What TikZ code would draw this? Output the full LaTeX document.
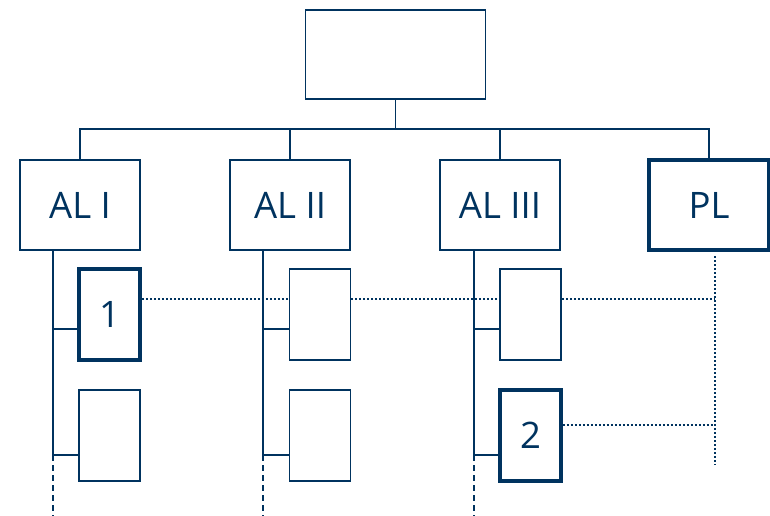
\documentclass[tikz,border=0pt]{standalone}
\usepackage{fontspec}
\setmainfont{Open Sans}
\usepackage{tikz}
\usetikzlibrary{positioning}

\definecolor{navy}{HTML}{00335F}
\tikzset{
  unit/.style={draw=navy, line width=1.8pt, fill=white, inner sep=0pt,
    text=navy, font=\fontsize{36.5}{42}\selectfont},
  chief/.style={unit, minimum width=180pt, minimum height=89pt},
  branch/.style={unit, minimum width=120pt, minimum height=90pt},
  cell/.style={unit, minimum width=61pt, minimum height=91pt},
  bold/.style={line width=3.5pt},
  link/.style={draw=navy, line width=1.8pt},
  trail/.style={draw=navy, line width=1.8pt, dash pattern=on 6pt off 4pt},
  liaison/.style={draw=navy, line width=2.2pt, dash pattern=on 2pt off 2pt}
}

\begin{document}
\begin{tikzpicture}[x=1pt,y=-1pt]
            \useasboundingbox (0,0) rectangle (770,516);
            \node[chief] (top) at (395.5,54.5) {};
            \node[branch] (al1) at (80,205) {AL I};
            \node[branch] (al2) at (290,205) {AL II};
            \node[branch] (al3) at (500,205) {AL III};
            \node[branch, bold] (pl) at (709,205) {PL};
            \node[cell, bold] (c11) at (109.5,314.5) {1};
            \node[cell] (c12) at (109.5,435.5) {};
            \node[cell] (c21) at (320,314.5) {};
            \node[cell] (c22) at (320,435.5) {};
            \node[cell] (c31) at (530.5,314.5) {};
            \node[cell, bold] (c32) at (530.5,435.5) {2};
            \coordinate (bus) at (395.5,129);
            \draw[link] (top.south) -- (bus);
            \draw[link] (al1.north) |- (bus) -| (pl.north);
            \draw[link] (al2.north) -- (al2.north |- bus);
            \draw[link] (al3.north) -- (al3.north |- bus);
            \coordinate (s1) at (53,455);
            \coordinate (s2) at (263,455);
            \coordinate (s3) at (474,455);
            \draw[link] (al1.south -| s1) -- (s1) -- (s1 -| c12.west);
            \draw[link] (al2.south -| s2) -- (s2) -- (s2 -| c22.west);
            \draw[link] (al3.south -| s3) -- (s3) -- (s3 -| c32.west);
            \draw[link] (s1 |- 0,329) -- (c11.west |- 0,329);
            \draw[link] (s2 |- 0,329) -- (c21.west |- 0,329);
            \draw[link] (s3 |- 0,329) -- (c31.west |- 0,329);
            \draw[trail] (s1) -- (s1 |- 0,516);
            \draw[trail] (s2) -- (s2 |- 0,516);
            \draw[trail] (s3) -- (s3 |- 0,516);
            % liaison lines to PL
            \coordinate (d1) at (715,299);
            \coordinate (d2) at (715,425);
            \draw[liaison] (715,256) -- (715,465);
            \draw[liaison] (c11.east |- d1) -- (c21.west |- d1);
            \draw[liaison] (c21.east |- d1) -- (c31.west |- d1);
            \draw[liaison] (c31.east |- d1) -- (d1);
            \draw[liaison] (c32.east |- d2) -- (d2);
        \end{tikzpicture}
\end{document}
